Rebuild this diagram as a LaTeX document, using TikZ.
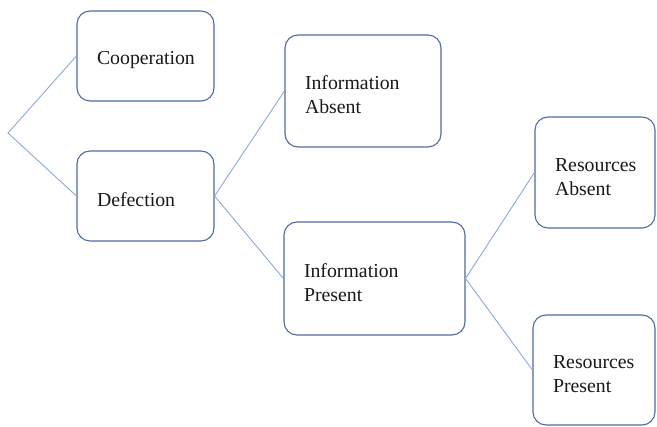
\documentclass[tikz,border=0pt]{standalone}
\usepackage{fontspec}
\setmainfont{Liberation Serif}
\definecolor{boxline}{RGB}{80,108,158}
\definecolor{connline}{RGB}{140,168,218}
\begin{document}
\begin{tikzpicture}[x=1pt,y=-1pt,
  choice/.style={draw=boxline, line width=1.1pt, rounded corners=13pt, fill=white,
    inner xsep=20pt, inner ysep=0pt, align=left, text height=21.5pt,
    font=\fontsize{19.8}{24}\selectfont, text=black!90},
  conn/.style={draw=connline, line width=0.9pt}]
\useasboundingbox (0,0) rectangle (657,427);
\node[choice, text width=97pt, minimum height=90pt] (coop) at (145.5,56) {Cooperation};
\node[choice, text width=97pt, minimum height=90pt] (def) at (145.5,196) {Defection};
\node[choice, text width=116pt, minimum height=112pt] (ia) at (363,91) {Information\\Absent};
\node[choice, text width=141pt, minimum height=113pt] (ip) at (374.5,278.5) {Information\\Present};
\node[choice, text width=80pt, minimum height=111pt] (ra) at (595,172.5) {Resources\\Absent};
\node[choice, text width=82pt, minimum height=110pt] (rp) at (594,370) {Resources\\Present};
\coordinate (root) at (8,133);
\draw[conn] (coop.west) -- (root) -- (def.west);
\draw[conn] (ia.west) -- (def.east) -- (ip.west);
\draw[conn] (ra.west) -- (ip.east) -- (rp.west);
\end{tikzpicture}
\end{document}
